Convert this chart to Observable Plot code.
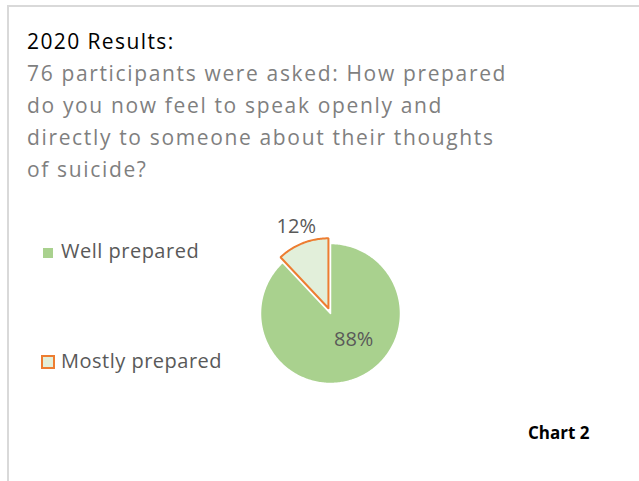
<!DOCTYPE html>
<html><head><meta charset="utf-8">
<script src="https://cdn.jsdelivr.net/npm/d3@7"></script>
<script src="https://cdn.jsdelivr.net/npm/@observablehq/plot@0.6"></script>
<style>
body{margin:0;background:#fff;}
#wrap{position:relative;width:639px;height:481px;overflow:hidden;font-family:"Open Sans",sans-serif;}
#frame{position:absolute;left:7px;top:5px;width:700px;height:600px;border-left:2px solid #d9d9d9;border-top:2px solid #d9d9d9;}
#chart{position:absolute;left:0;top:0;}
.t{position:absolute;left:27px;white-space:nowrap;line-height:32px;}
#title{top:25px;font-size:21px;color:#000;letter-spacing:1.4px;}
.sub{font-size:21px;color:#7f7f7f;letter-spacing:1.65px;}
.leg{position:absolute;left:61px;font-size:20px;color:#595959;line-height:24px;white-space:nowrap;letter-spacing:0.5px;}
.sw{position:absolute;box-sizing:border-box;}
#cap{position:absolute;left:528px;top:421px;font-size:17px;font-weight:bold;color:#000;line-height:24px;}
</style></head>
<body>
<div id="wrap">
  <div id="frame"></div>
  <div id="chart"></div>
  <div id="title" class="t">2020 Results:</div>
  <div class="t sub" style="top:57px">76 participants were asked: How prepared</div>
  <div class="t sub" style="top:89px">do you now feel to speak openly and</div>
  <div class="t sub" style="top:121px">directly to someone about their thoughts</div>
  <div class="t sub" style="top:153px">of suicide?</div>
  <div id="legend"></div>
  <div id="cap">Chart 2</div>
</div>
<script>
const categories = ["Well prepared", "Mostly prepared"];
const values = [88, 12];
const labels = ["88%", "12%"];

const fills = ["#a9d18e", "#e2efda"];
const strokes = ["#ffffff", "#ed7d31"];
const explode = [0, 0.08];

const arcs = d3.pie().sort(null).value(d => d)(values);
const rows = [];
arcs.forEach((a, i) => {
  const mid = (a.startAngle + a.endAngle) / 2;
  const ox = explode[i] * Math.sin(mid), oy = explode[i] * Math.cos(mid);
  rows.push({cat: categories[i], x: ox, y: oy});
  const n = Math.max(8, Math.ceil((a.endAngle - a.startAngle) * 60));
  for (let k = 0; k <= n; k++) {
    const t = a.startAngle + (a.endAngle - a.startAngle) * k / n;
    rows.push({cat: categories[i], x: ox + Math.sin(t), y: oy + Math.cos(t)});
  }
  rows.push({cat: categories[i], x: ox, y: oy});
});

const labelR = [0.55, 1.33];
const labelDx = [9, 0];
const labelDy = [-10, 0];
const labelRows = arcs.map((a, i) => {
  const mid = (a.startAngle + a.endAngle) / 2;
  return {text: labels[i], x: labelR[i] * Math.sin(mid), y: labelR[i] * Math.cos(mid), i};
});

const chart = Plot.plot({
  width: 639, height: 481, margin: 0,
  style: {background: "transparent", overflow: "visible"},
  x: {domain: [-1, 1], range: [260, 400], axis: null},
  y: {domain: [-1, 1], range: [383, 243], axis: null},
  color: {domain: categories, range: fills},
  marks: [
    Plot.line(rows.filter(r => r.cat === categories[0]), {x: "x", y: "y", fill: "cat", stroke: strokes[0], strokeWidth: 1.5, curve: "linear"}),
    Plot.line(rows.filter(r => r.cat === categories[1]), {x: "x", y: "y", fill: "cat", stroke: strokes[1], strokeWidth: 2, strokeLinejoin: "miter"}),
    Plot.text(labelRows.filter(d => d.i === 0), {x: "x", y: "y", text: "text", fontSize: 20, fill: "#595959", dx: labelDx[0], dy: labelDy[0], fontFamily: "Open Sans"}),
    Plot.text(labelRows.filter(d => d.i === 1), {x: "x", y: "y", text: "text", fontSize: 20, fill: "#595959", dx: labelDx[1], dy: labelDy[1], fontFamily: "Open Sans"})
  ]
});
document.getElementById("chart").appendChild(chart);

const legendTops = [239, 349];
const lg = document.getElementById("legend");
categories.forEach((c, i) => {
  const sw = document.createElement("div");
  sw.className = "sw";
  if (i === 0) {
    Object.assign(sw.style, {left: "43px", top: (legendTops[i] + 9) + "px", width: "10px", height: "10px", background: fills[0]});
  } else {
    Object.assign(sw.style, {left: "41px", top: (legendTops[i] + 6) + "px", width: "14px", height: "14px", background: fills[1], border: "2px solid " + strokes[1]});
  }
  lg.appendChild(sw);
  const tx = document.createElement("div");
  tx.className = "leg";
  tx.style.top = legendTops[i] + "px";
  tx.textContent = c;
  lg.appendChild(tx);
});
</script>
</body></html>
